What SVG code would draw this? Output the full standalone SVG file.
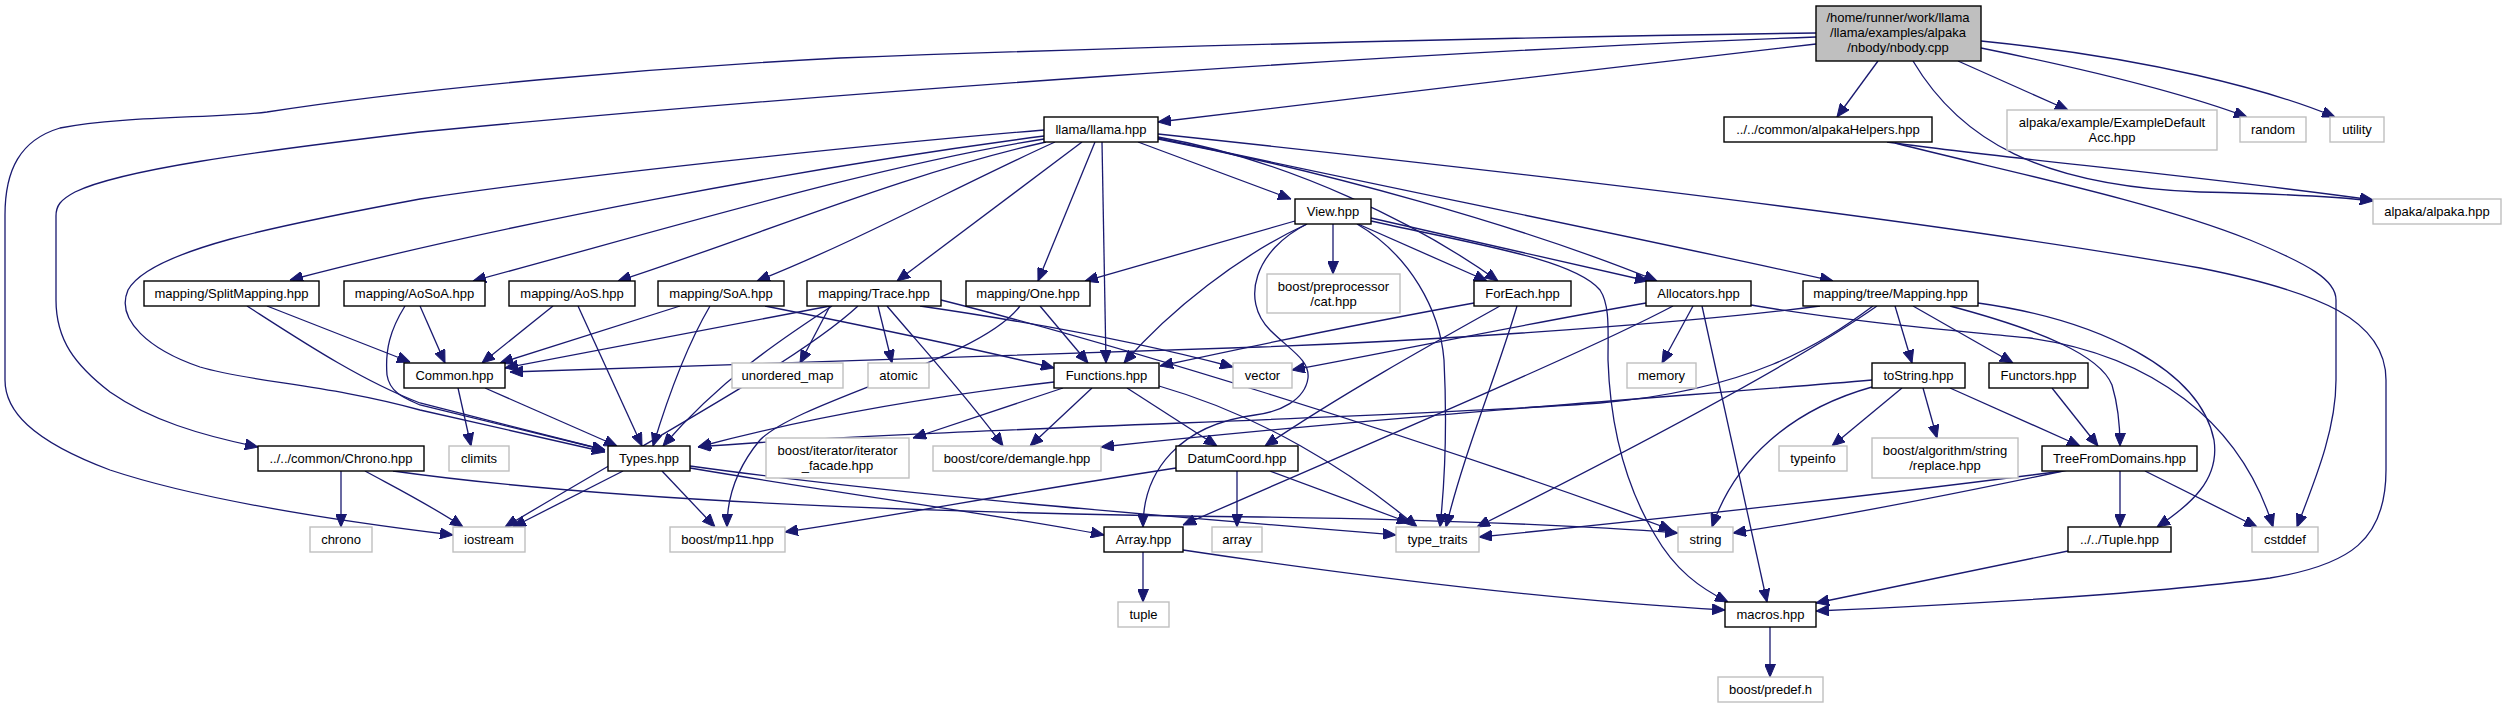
<svg xmlns="http://www.w3.org/2000/svg" width="2506" height="708" viewBox="0 0 2506 708">
<defs>
<marker id="a" markerWidth="13" markerHeight="11" refX="13" refY="5.5" orient="auto" markerUnits="userSpaceOnUse"><path d="M0,0 L13,5.5 L0,11 z" fill="#191970" stroke="#191970" stroke-width="1"/></marker>
</defs>
<style>
.n rect{fill:#fff;stroke:#000;stroke-width:1.4}
.g rect{fill:#fff;stroke:#bfbfbf;stroke-width:1.4}
.r rect{fill:#bfbfbf;stroke:#000;stroke-width:1.4}
text{font-family:"Liberation Sans",Arial,sans-serif;font-size:13px;fill:#000;text-anchor:middle}
#edges path{fill:none;stroke:#191970;stroke-width:1.3;marker-end:url(#a)}
</style>
<rect width="2506" height="708" fill="#fff"/>
<g id="edges">
<path d="M1816,44 C1600,68 1350,100 1158,122"/>
<path d="M1816,37 C1400,52 800,95 420,132 C250,152 120,170 75,192 C60,200 56,206 56,216 L56,300 C56,340 75,365 110,392 C150,420 200,435 258,447"/>
<path d="M1816,33 C1500,37 1100,48 840,58 C650,68 420,88 267,112 C220,118 120,116 60,128 C20,140 5,170 5,215 L5,380 C5,410 30,440 110,470 C200,500 330,520 453,535"/>
<path d="M1981,48 C2080,68 2180,92 2247,117"/>
<path d="M1981,41 C2150,58 2270,90 2335,117"/>
<path d="M1878,61 L1837,117"/>
<path d="M1958,61 L2068,110"/>
<path d="M1913,61 C1960,140 2040,186 2200,192 C2290,194 2340,197 2373,201"/>
<path d="M1887,142 C2000,158 2200,176 2373,200"/>
<path d="M1895,143 C2000,170 2150,200 2250,240 C2310,265 2336,280 2336,300 L2336,380 C2336,430 2315,480 2297,527"/>
<path d="M1044,130 C900,142 600,172 420,199 C280,225 150,250 128,290 C115,320 150,350 200,367 C250,382 330,385 420,410 L605,452"/>
<path d="M1044,136 C800,168 500,225 290,280"/>
<path d="M1044,139 C880,165 680,225 473,281"/>
<path d="M1046,142 C900,175 760,235 618,281"/>
<path d="M1055,142 C960,185 860,240 757,281"/>
<path d="M1082,142 L897,281"/>
<path d="M1095,142 L1038,281"/>
<path d="M1102,142 L1106,363"/>
<path d="M1138,142 L1291,199"/>
<path d="M1158,137 C1290,160 1420,225 1498,281"/>
<path d="M1158,139 C1320,170 1520,225 1657,281"/>
<path d="M1158,138 C1400,190 1650,240 1833,281"/>
<path d="M1158,134 C1450,165 1900,215 2200,268 C2320,292 2386,320 2386,380 L2386,470 C2386,540 2350,565 2270,578 C2150,594 1950,605 1816,611"/>
<path d="M1333,224 L1333,274"/>
<path d="M1295,221 L1085,281"/>
<path d="M1307,224 C1240,255 1170,310 1124,363"/>
<path d="M1358,224 L1487,281"/>
<path d="M1371,218 L1648,281"/>
<path d="M1371,221 C1480,245 1575,260 1600,290 C1610,305 1608,330 1608,360 C1610,420 1622,480 1655,535 C1675,570 1700,588 1728,602"/>
<path d="M1357,224 C1410,255 1440,310 1444,360 C1447,420 1445,480 1440,527"/>
<path d="M1307,224 C1255,250 1240,300 1270,330 C1290,350 1310,360 1308,378 C1305,400 1280,412 1255,415 C1180,425 1143,470 1143,527"/>
<path d="M1474,303 C1380,320 1280,340 1160,366"/>
<path d="M1500,306 C1430,345 1340,395 1265,446"/>
<path d="M1517,306 C1495,380 1465,450 1446,527"/>
<path d="M1646,303 C1520,325 1400,350 1292,370"/>
<path d="M1693,306 L1662,363"/>
<path d="M1702,306 L1767,602"/>
<path d="M1673,306 C1590,350 1400,430 1183,525"/>
<path d="M1751,305 C1850,322 1950,330 2030,338 C2150,355 2240,420 2273,527"/>
<path d="M1820,306 C1700,322 1450,340 1260,347 L510,372"/>
<path d="M1873,306 C1820,345 1750,390 1600,403 C1400,418 900,430 698,447"/>
<path d="M1877,306 C1800,360 1650,440 1477,527"/>
<path d="M1895,306 L1912,363"/>
<path d="M1913,306 L2013,363"/>
<path d="M1950,306 C2040,330 2100,355 2112,385 C2118,405 2120,425 2120,446"/>
<path d="M1978,303 C2100,320 2200,370 2214,440 C2220,480 2190,505 2157,527"/>
<path d="M1902,388 L1832,446"/>
<path d="M1923,388 L1937,438"/>
<path d="M1950,388 L2080,446"/>
<path d="M1872,387 C1790,410 1735,460 1712,527"/>
<path d="M1872,380 C1700,395 1400,415 1101,447"/>
<path d="M2052,388 L2098,446"/>
<path d="M2120,471 L2120,527"/>
<path d="M2145,471 L2257,527"/>
<path d="M2068,470 C1950,495 1850,515 1733,533"/>
<path d="M2063,471 C1800,505 1600,525 1479,537"/>
<path d="M2068,551 L1816,603"/>
<path d="M623,471 L513,527"/>
<path d="M662,471 L715,527"/>
<path d="M690,468 C850,495 1000,515 1104,535"/>
<path d="M690,466 C900,495 1150,515 1396,535"/>
<path d="M393,471 C600,500 900,513 1260,517 C1450,520 1600,527 1678,533"/>
<path d="M341,471 L341,527"/>
<path d="M365,471 C400,490 430,505 463,527"/>
<path d="M1237,471 L1237,527"/>
<path d="M1176,468 C1000,495 900,515 785,532"/>
<path d="M1270,471 L1410,523"/>
<path d="M1143,552 L1143,602"/>
<path d="M1183,550 C1350,575 1550,600 1725,610"/>
<path d="M1770,627 L1770,677"/>
<path d="M458,388 L471,446"/>
<path d="M485,388 L617,446"/>
<path d="M267,306 L410,362"/>
<path d="M247,306 C300,340 360,380 420,403 L605,450"/>
<path d="M420,306 L445,363"/>
<path d="M405,306 C390,330 385,350 387,375 C390,395 410,400 420,405 L605,450"/>
<path d="M553,306 L482,363"/>
<path d="M578,306 L642,446"/>
<path d="M680,306 L500,363"/>
<path d="M710,306 C690,340 670,390 653,446"/>
<path d="M765,306 C860,325 960,345 1054,368"/>
<path d="M830,306 L505,368"/>
<path d="M832,306 C780,340 720,380 663,446"/>
<path d="M858,306 C800,360 650,440 505,527"/>
<path d="M830,306 L800,363"/>
<path d="M878,306 L892,363"/>
<path d="M887,306 C920,345 970,400 1003,446"/>
<path d="M920,306 C1050,325 1150,345 1233,367"/>
<path d="M941,300 C1100,340 1400,430 1672,530"/>
<path d="M1040,306 L1088,363"/>
<path d="M1020,306 C980,360 800,400 760,440 C735,470 727,500 727,527"/>
<path d="M1054,382 C900,400 780,425 698,447"/>
<path d="M1063,388 L913,438"/>
<path d="M1092,388 L1030,446"/>
<path d="M1127,388 L1217,446"/>
<path d="M1159,386 C1260,415 1350,470 1417,527"/>
</g>
<g id="nbody" class="r"><rect x="1816" y="6" width="165" height="55"/><text x="1898" y="22">/home/runner/work/llama</text><text x="1898" y="37">/llama/examples/alpaka</text><text x="1898" y="52">/nbody/nbody.cpp</text></g>
<g id="llama" class="n"><rect x="1044" y="117" width="114" height="25"/><text x="1101" y="134">llama/llama.hpp</text></g>
<g id="alpakaHelpers" class="n"><rect x="1724" y="117" width="208" height="25"/><text x="1828" y="134">../../common/alpakaHelpers.hpp</text></g>
<g id="exampleAcc" class="g"><rect x="2007" y="110" width="210" height="40"/><text x="2112" y="126.5">alpaka/example/ExampleDefault</text><text x="2112" y="141.5">Acc.hpp</text></g>
<g id="random" class="g"><rect x="2240" y="117" width="66" height="25"/><text x="2273" y="134">random</text></g>
<g id="utility" class="g"><rect x="2330" y="117" width="54" height="25"/><text x="2357" y="134">utility</text></g>
<g id="alpaka" class="g"><rect x="2373" y="199" width="128" height="25"/><text x="2437" y="216">alpaka/alpaka.hpp</text></g>
<g id="view" class="n"><rect x="1295" y="199" width="76" height="25"/><text x="1333" y="216">View.hpp</text></g>
<g id="cat" class="g"><rect x="1267" y="274" width="133" height="39"/><text x="1333.5" y="290.5">boost/preprocessor</text><text x="1333.5" y="305.5">/cat.hpp</text></g>
<g id="foreach" class="n"><rect x="1474" y="281" width="97" height="25"/><text x="1522.5" y="298">ForEach.hpp</text></g>
<g id="allocators" class="n"><rect x="1646" y="281" width="105" height="25"/><text x="1698.5" y="298">Allocators.hpp</text></g>
<g id="treeMapping" class="n"><rect x="1803" y="281" width="175" height="25"/><text x="1890.5" y="298">mapping/tree/Mapping.hpp</text></g>
<g id="split" class="n"><rect x="144" y="281" width="175" height="25"/><text x="231.5" y="298">mapping/SplitMapping.hpp</text></g>
<g id="aosoa" class="n"><rect x="344" y="281" width="141" height="25"/><text x="414.5" y="298">mapping/AoSoA.hpp</text></g>
<g id="aos" class="n"><rect x="509" y="281" width="126" height="25"/><text x="572" y="298">mapping/AoS.hpp</text></g>
<g id="soa" class="n"><rect x="658" y="281" width="126" height="25"/><text x="721" y="298">mapping/SoA.hpp</text></g>
<g id="trace" class="n"><rect x="807" y="281" width="134" height="25"/><text x="874" y="298">mapping/Trace.hpp</text></g>
<g id="one" class="n"><rect x="966" y="281" width="124" height="25"/><text x="1028" y="298">mapping/One.hpp</text></g>
<g id="common" class="n"><rect x="404" y="363" width="101" height="25"/><text x="454.5" y="380">Common.hpp</text></g>
<g id="umap" class="g"><rect x="732" y="363" width="111" height="25"/><text x="787.5" y="380">unordered_map</text></g>
<g id="atomic" class="g"><rect x="868" y="363" width="61" height="25"/><text x="898.5" y="380">atomic</text></g>
<g id="functions" class="n"><rect x="1054" y="363" width="105" height="25"/><text x="1106.5" y="380">Functions.hpp</text></g>
<g id="vector" class="g"><rect x="1233" y="363" width="59" height="25"/><text x="1262.5" y="380">vector</text></g>
<g id="memory" class="g"><rect x="1627" y="363" width="69" height="25"/><text x="1661.5" y="380">memory</text></g>
<g id="toString" class="n"><rect x="1872" y="363" width="93" height="25"/><text x="1918.5" y="380">toString.hpp</text></g>
<g id="functors" class="n"><rect x="1989" y="363" width="99" height="25"/><text x="2038.5" y="380">Functors.hpp</text></g>
<g id="climits" class="g"><rect x="449" y="446" width="60" height="25"/><text x="479" y="463">climits</text></g>
<g id="types" class="n"><rect x="608" y="446" width="82" height="25"/><text x="649" y="463">Types.hpp</text></g>
<g id="iterator" class="g"><rect x="766" y="438" width="143" height="40"/><text x="837.5" y="454.5">boost/iterator/iterator</text><text x="837.5" y="469.5">_facade.hpp</text></g>
<g id="demangle" class="g"><rect x="933" y="446" width="168" height="25"/><text x="1017" y="463">boost/core/demangle.hpp</text></g>
<g id="datumCoord" class="n"><rect x="1176" y="446" width="122" height="25"/><text x="1237" y="463">DatumCoord.hpp</text></g>
<g id="typeinfo" class="g"><rect x="1779" y="446" width="68" height="25"/><text x="1813" y="463">typeinfo</text></g>
<g id="replace" class="g"><rect x="1872" y="438" width="146" height="40"/><text x="1945" y="454.5">boost/algorithm/string</text><text x="1945" y="469.5">/replace.hpp</text></g>
<g id="treeFromDomains" class="n"><rect x="2042" y="446" width="155" height="25"/><text x="2119.5" y="463">TreeFromDomains.hpp</text></g>
<g id="chronoHpp" class="n"><rect x="258" y="446" width="166" height="25"/><text x="341" y="463">../../common/Chrono.hpp</text></g>
<g id="chrono" class="g"><rect x="310" y="527" width="62" height="25"/><text x="341" y="544">chrono</text></g>
<g id="iostream" class="g"><rect x="453" y="527" width="72" height="25"/><text x="489" y="544">iostream</text></g>
<g id="mp11" class="g"><rect x="670" y="527" width="115" height="25"/><text x="727.5" y="544">boost/mp11.hpp</text></g>
<g id="arrayHpp" class="n"><rect x="1104" y="527" width="79" height="25"/><text x="1143.5" y="544">Array.hpp</text></g>
<g id="array" class="g"><rect x="1212" y="527" width="50" height="25"/><text x="1237" y="544">array</text></g>
<g id="typeTraits" class="g"><rect x="1396" y="527" width="83" height="25"/><text x="1437.5" y="544">type_traits</text></g>
<g id="string" class="g"><rect x="1678" y="527" width="55" height="25"/><text x="1705.5" y="544">string</text></g>
<g id="tupleHpp" class="n"><rect x="2068" y="527" width="103" height="25"/><text x="2119.5" y="544">../../Tuple.hpp</text></g>
<g id="cstddef" class="g"><rect x="2252" y="527" width="66" height="25"/><text x="2285" y="544">cstddef</text></g>
<g id="macros" class="n"><rect x="1725" y="602" width="91" height="25"/><text x="1770.5" y="619">macros.hpp</text></g>
<g id="predef" class="g"><rect x="1718" y="677" width="105" height="25"/><text x="1770.5" y="694">boost/predef.h</text></g>
<g id="tuple" class="g"><rect x="1118" y="602" width="51" height="25"/><text x="1143.5" y="619">tuple</text></g>
</svg>
